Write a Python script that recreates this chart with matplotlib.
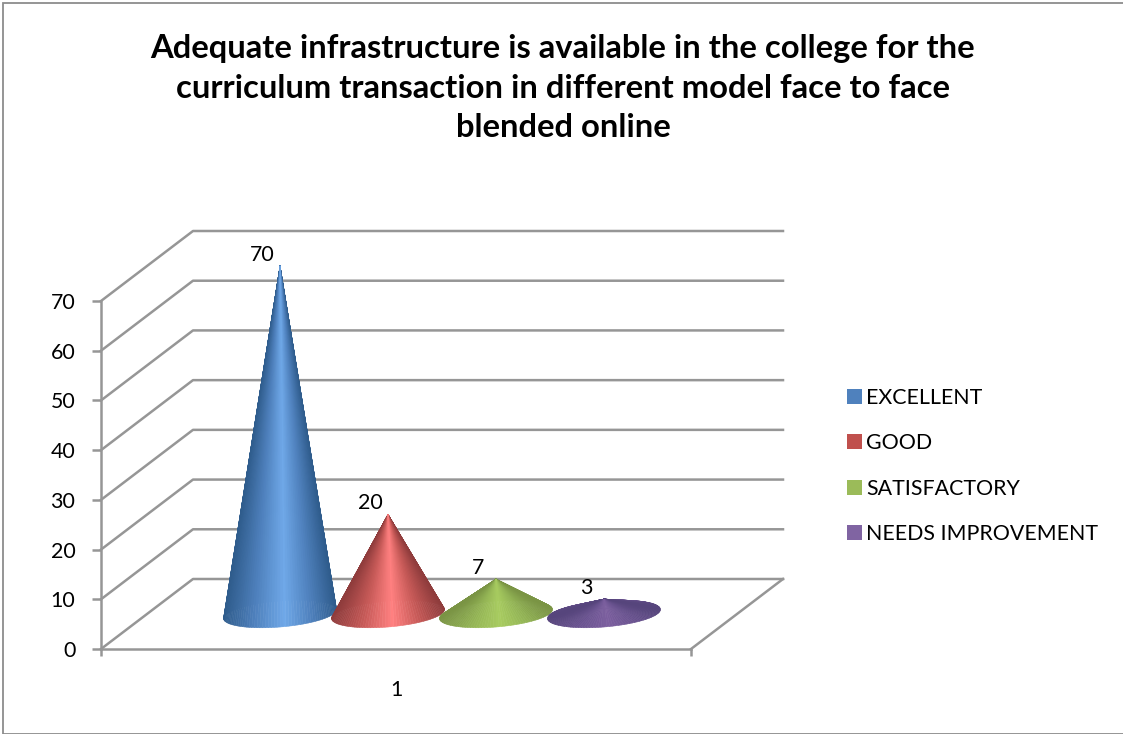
import numpy as np
import matplotlib
matplotlib.use('Agg')
import matplotlib.pyplot as plt
from matplotlib.collections import PolyCollection
from matplotlib.colors import to_rgb
from matplotlib.patches import Patch, Rectangle

plt.rcParams['font.family'] = ['Lato', 'DejaVu Sans']

title = ("Adequate infrastructure is available in the college for the\n"
         "curriculum transaction in different model face to face\n"
         "blended online")
series = ['EXCELLENT', 'GOOD', 'SATISFACTORY', 'NEEDS IMPROVEMENT']
values = [70, 20, 7, 3]
category = '1'
y_ticks = [0, 10, 20, 30, 40, 50, 60, 70]

swatch = ['#4f81bd', '#c0504d', '#9bbb59', '#8064a2']
dark = ['#2f5c8c', '#8f3c3c', '#7a9444', '#56457c']
mid = ['#4f81bd', '#c75a58', '#93b455', '#6a5390']
light = ['#6fa8e8', '#ff8080', '#a8cc60', '#7c5f9f']
grid_col = '#969696'
font_size = 15.4

W, H = 1123, 734
fig = plt.figure(figsize=(W / 100, H / 100), dpi=100)
ax = fig.add_axes([101 / W, (H - 649) / H, 590 / W, 348 / H])
ax.set_xlim(0, 1)
ax.set_ylim(0, 70)
ax.patch.set_visible(False)

# one pixel in axis units
px_x = 1 / 590
px_y = 70 / 348
depth_x = 92 * px_x
depth_y = 70 * px_y

# walls and floor
for v in y_ticks:
    ax.plot([0, depth_x, 1 + depth_x], [v, v + depth_y, v + depth_y],
            color=grid_col, lw=1.8, clip_on=False, zorder=1)
ax.plot([1, 1 + depth_x], [0, depth_y], color=grid_col, lw=1.8, clip_on=False, zorder=1)

for s in ['top', 'right']:
    ax.spines[s].set_visible(False)
for s in ['left', 'bottom']:
    ax.spines[s].set_color(grid_col)
    ax.spines[s].set_linewidth(1.8)

ax.set_yticks(y_ticks)
ax.tick_params(axis='y', length=6.5, width=1.8, color=grid_col, labelsize=font_size, pad=12)
ax.set_xticks([0, 1])
ax.set_xticklabels(['', ''])
ax.tick_params(axis='x', length=5, width=1.8, color=grid_col)
ax.set_xticks([0.5], minor=True)
ax.set_xticklabels([category], minor=True)
ax.tick_params(axis='x', which='minor', length=0, labelsize=font_size, pad=22)

# cones
spacing = 0.183
semi_x = 56.5 * px_x
semi_y = 13 * px_y
shear = 4.5 * px_y
t = np.linspace(0, 2 * np.pi, 121)
stops = [-1, -0.45, 0.08, 0.55, 1]

for i, v in enumerate(values):
    cx = 0.5 + (i - 1.5) * spacing + depth_x / 2
    cy = depth_y / 2
    ex = cx + semi_x * np.cos(t)
    ey = cy + semi_y * np.sin(t) + shear * np.cos(t)
    apex = (cx, cy + v)
    tris, cols = [], []
    # back of the cone first, front over it
    mids = (t[:-1] + t[1:]) / 2
    for k in np.argsort(-np.sin(mids)):
        tris.append([apex, (ex[k], ey[k]), (ex[k + 1], ey[k + 1])])
        u = np.cos(mids[k])
        ramp = [to_rgb(dark[i]), to_rgb(mid[i]), to_rgb(light[i]), to_rgb(mid[i]), to_rgb(dark[i])]
        cols.append([np.interp(u, stops, [c[j] for c in ramp]) for j in range(3)])
    ax.add_collection(PolyCollection(tris, facecolors=cols, edgecolors=cols, linewidths=0.4,
                                     clip_on=False, zorder=3 + i))
    ax.annotate(str(v), apex, xytext=(-13, 1), textcoords='offset points', ha='center', va='bottom',
                fontsize=font_size, zorder=10, annotation_clip=False)

handles = [Patch(facecolor=c, edgecolor='none', label=s) for c, s in zip(swatch, series)]
fig.legend(handles=handles, loc='center left', bbox_to_anchor=(847 / W, (H - 466) / H),
           frameon=False, fontsize=font_size, handlelength=0.7, handleheight=0.7, handletextpad=0.2,
           labelspacing=1.19, borderpad=0, borderaxespad=0)

fig.text(563 / W, (H - 88) / H, title, ha='center', va='center', fontsize=23.6, fontweight='bold',
         linespacing=1.44)

# frame runs off the right edge of the picture
fig.add_artist(Rectangle((3 / W, 0.5 / H), 1, (H - 3.5) / H, transform=fig.transFigure,
                         fill=False, edgecolor='#8c8c8c', lw=1.3))

fig.savefig('out.png', dpi=100)
